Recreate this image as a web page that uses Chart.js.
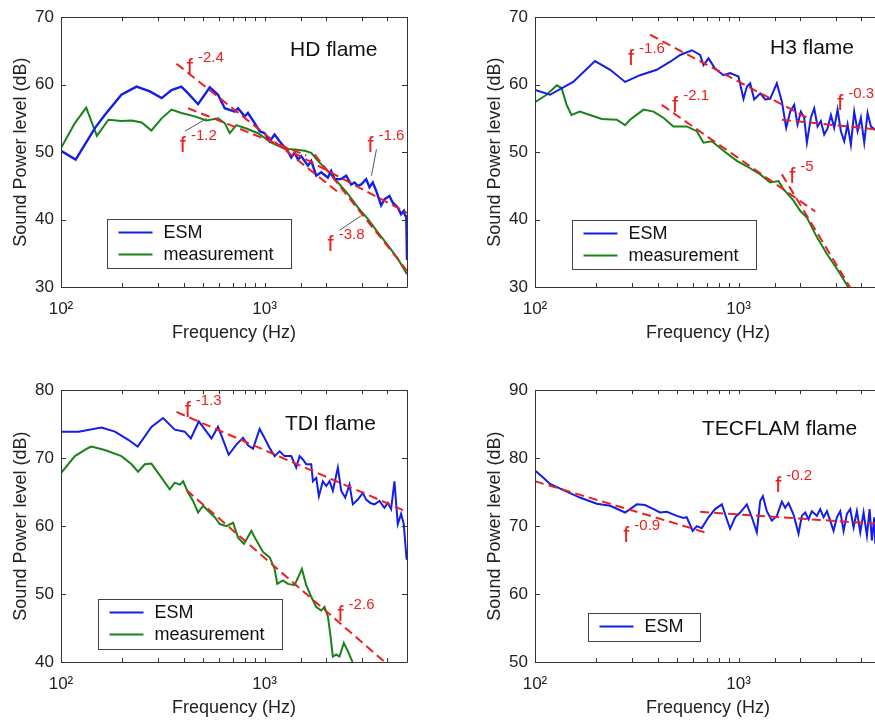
<!DOCTYPE html>
<html>
<head>
<meta charset="utf-8">
<script src="https://cdn.jsdelivr.net/npm/chart.js@4.4.1/dist/chart.umd.min.js"></script>
<style>
  html, body { margin: 0; padding: 0; width: 875px; height: 722px; overflow: hidden; background: #fff; }
  canvas { position: absolute; }
</style>
</head>
<body>
<canvas id="hd" width="440" height="361" style="left:0;top:0"></canvas>
<canvas id="h3" width="440" height="361" style="left:474px;top:0"></canvas>
<canvas id="tdi" width="440" height="363" style="left:0;top:373px"></canvas>
<canvas id="tec" width="440" height="363" style="left:474px;top:373px"></canvas>
<script>
// HD flame
const hdEsmFreq = [100,118,147,164,198,235,273,312,349,390,421,471,538,590,637,713,740,798,828,893,945,1000,1058,1119,1184,1301,1351,1403,1457,1512,1631,1693,1792,1896,2044,2122,2203,2376,2514,2660,2762,2868,2978,3151,3271,3396,3527,3732,3874,4100,4257,4504,4677,4820,4893,4960,5000];
const hdEsmDb = [50.2,48.9,53.6,55.5,58.5,59.7,59.0,58.0,59.2,59.7,58.7,57.1,59.6,58.5,56.5,56.0,56.5,55.3,55.8,54.3,53.1,52.8,51.6,52.6,51.6,50.1,49.2,49.9,48.9,49.4,48.0,48.7,46.5,47.0,46.2,47.2,46.0,46.0,46.5,45.2,45.5,45.0,45.2,46.0,44.8,45.5,44.3,42.1,43.0,43.5,42.5,41.8,40.8,41.3,40.6,40.5,34.0];
const hdMeasFreq = [100,117,133,150,171,198,222,249,278,312,349,390,454,518,590,637,674,726,813,928,1078,1253,1403,1571,1693,1826,2044,2288,2562,2868,3210,3594,4023,4504,5000];
const hdMeasDb = [50.6,54.3,56.6,52.4,54.8,54.6,54.7,54.4,53.2,55.0,56.3,55.8,55.3,54.7,55.0,54.3,52.8,54.0,53.5,52.8,51.4,50.5,50.4,50.2,49.9,48.7,47.2,45.5,43.8,41.8,40.1,38.1,36.2,34.2,31.9];
const hdFitFreq = [[369,2330],[421,1600],[1200,5000],[1758,5000]];
const hdFitDb = [[63.1,43.9],[56.5,49.5],[50.9,41.0],[49.65,32.4]];
const hdNotes = [[415,61.6,'-2.4'],[383,50.0,'-1.2'],[3198,50.0,'-1.6'],[2036,35.3,'-3.8']];
const hdLeaders = [[406,53.1,520,55.0],[3540,50.4,3345,46.5],[2332,38.4,2989,40.6]];

// H3 flame
const h3EsmFreq = [100,118.5,154,197,234,277,328,396,461,516,589,647,672,711,766,842,908,998,1056,1097,1139,1192,1276,1350,1428,1540,1630,1712,1791,1874,1946,2021,2098,2163,2263,2350,2440,2533,2631,2732,2838,2946,3060,3177,3299,3426,3557,3694,3837,3983,4137,4297,4461,4687,4850,5000];
const h3EsmDb = [59.2,58.5,60.4,63.5,62.2,60.4,61.4,62.2,63.4,64.4,65.1,64.4,62.9,63.9,62.4,61.4,61.7,61.2,57.9,59.7,60.2,57.8,58.7,57.8,57.9,60.2,57.5,53.6,56.0,57.0,54.1,56.0,55.1,51.4,55.1,56.5,53.8,54.6,52.6,53.5,55.5,53.6,56.3,53.1,51.6,54.1,51.1,56.0,53.1,55.1,51.4,55.8,53.8,53.3,53.0,52.5];
const h3MeasFreq = [100,114,128,135,143,151,166,186,213,252,277,293,341,382,427,478,556,623,672,738,842,980,1097,1276,1428,1570,1661,1860,2005,2163,2422,2713,3037,3401,3466,3600];
const h3MeasDb = [57.4,58.5,59.9,59.5,57.0,55.5,56.0,55.5,54.9,54.8,54.0,54.8,56.3,56.0,55.1,53.8,53.8,53.1,51.4,51.6,50.2,48.7,47.9,46.7,45.5,45.7,44.5,42.8,41.3,40.3,37.4,34.9,32.7,30.3,29.8,28.5];
const h3FitFreq = [[367,2163],[419,2376],[1630,5000],[1630,3600]];
const h3FitDb = [[67.4,55.1],[57.0,41.2],[54.8,53.3],[46.7,29.5]];
const h3Notes = [[286,62.9,'-1.6'],[471,56.0,'-2.1'],[3048,56.3,'-0.3'],[1771,45.4,'-5']];

// TDI flame
const tdiEsmFreq = [100,122,158,184,214,238,278,317,362,405,434,475,518,548,590,625,666,726,783,828,877,945,981,1058,1119,1184,1253,1351,1429,1484,1541,1600,1693,1726,1792,1846,1931,2006,2083,2162,2288,2376,2486,2610,2710,2868,3034,3151,3308,3462,3661,3874,4023,4178,4338,4504,4677,4820,4967,5000];
const tdiEsmDb = [73.9,73.9,74.5,73.9,72.7,71.7,74.6,75.9,74.2,73.9,72.9,75.4,73.9,72.9,74.6,72.7,70.5,72.0,73.0,71.9,71.4,74.3,73.4,71.5,70.3,71.0,70.3,70.3,68.6,70.3,69.8,69.1,69.1,66.6,67.1,64.4,66.6,65.9,66.6,65.2,68.6,65.2,64.2,66.1,63.2,63.9,64.9,63.9,63.4,63.2,63.7,62.7,63.4,62.5,66.6,60.3,61.8,60.3,55.4,55.0];
const tdiMeasFreq = [100,117,136,141,164,198,222,239,258,278,312,342,362,383,398,421,445,471,499,538,569,602,649,700,740,792,860,910,981,1058,1119,1153,1230,1301,1403,1524,1600,1693,1792,1896,1968,2044,2106,2162,2245,2331,2448,2562,2690,2760];
const tdiMeasDb = [67.8,70.3,71.5,71.7,71.2,70.3,69.1,68.0,69.1,69.2,67.1,65.4,66.4,66.1,66.6,64.9,63.7,62.0,63.0,62.0,61.3,60.3,60.0,60.5,58.3,57.4,59.3,57.9,56.2,55.4,53.7,51.5,52.0,51.5,51.3,53.7,51.3,49.6,48.1,47.6,48.1,46.7,43.8,40.8,41.1,40.8,42.8,41.6,40.1,38.5];
const tdiFitFreq = [[369,5000],[413,4100]];
const tdiFitDb = [[76.8,62.1],[65.3,39.4]];
const tdiNotes = [[405,76.1,'-1.3'],[2279,46.1,'-2.6']];

// TECFLAM flame
const tecEsmFreq = [100,110,118.5,138,166,201,234,277,293,316,347,382,411,444,497,536,556,595,623,659,711,766,827,868,908,961,1017,1097,1161,1228,1276,1315,1375,1455,1540,1630,1692,1757,1860,1968,2043,2122,2204,2288,2422,2515,2612,2713,2815,2924,3037,3154,3275,3401,3531,3667,3808,3955,4106,4264,4395,4511,4633,4687,4850,5000];
const tecEsmDb = [78.2,77.1,76.2,75.3,74.2,73.3,73.0,72.0,72.5,73.2,73.1,72.5,72.0,72.1,71.5,71.2,71.3,69.3,70.0,69.7,71.3,72.5,73.2,71.3,69.6,71.3,72.0,73.2,71.3,69.1,73.7,74.4,72.2,70.8,71.5,73.6,72.7,73.4,71.7,68.9,71.5,72.0,71.0,72.2,71.5,72.5,71.3,72.2,70.8,69.3,71.3,72.2,69.3,71.8,72.5,69.8,72.2,69.1,72.0,68.6,72.5,67.9,71.3,67.4,70.5,69.5];
const tecFitFreq = [[100,698],[647,5000]];
const tecFitDb = [[76.6,69.0],[72.1,70.3]];
const tecNotes = [[271,67.7,'-0.9'],[1511,75.0,'-0.2']];

const BLUE = 'rgb(20,30,230)';
const GREEN = 'rgb(25,130,25)';
const RED = 'rgb(235,32,32)';
const FONT = '"Liberation Sans", Arial, sans-serif';
Chart.defaults.font.family = FONT;

function pts(fr, db) {
  return fr.map((f, i) => ({ x: f, y: db[i] }));
}

// axes box, inward ticks, labels, legend
const decor = {
  id: 'decor',
  afterDatasetsDraw(chart, args, o) {
    const { ctx, chartArea: a, scales: { x, y } } = chart;
    ctx.save();
    ctx.strokeStyle = '#555';
    ctx.lineWidth = 1;
    o.leaders.forEach(l => {
      ctx.beginPath();
      ctx.moveTo(x.getPixelForValue(l[0]), y.getPixelForValue(l[1]));
      ctx.lineTo(x.getPixelForValue(l[2]), y.getPixelForValue(l[3]));
      ctx.stroke();
    });
    ctx.fillStyle = RED;
    ctx.textBaseline = 'alphabetic';
    ctx.textAlign = 'left';
    o.notes.forEach(n => {
      const px = x.getPixelForValue(n[0]), py = y.getPixelForValue(n[1]);
      ctx.font = '22px ' + FONT;
      ctx.fillText('f', px, py);
      const w = ctx.measureText('f').width;
      ctx.font = '15px ' + FONT;
      ctx.fillText(n[2], px + w + 5, py - 12);
    });
    ctx.fillStyle = '#111';
    ctx.font = '21px ' + FONT;
    ctx.fillText(o.title, a.left + o.titlePos[0], a.top + o.titlePos[1]);

    // frame and ticks
    ctx.strokeStyle = '#333';
    ctx.beginPath();
    ctx.rect(Math.round(a.left) + 0.5, Math.round(a.top) + 0.5, Math.round(a.width), Math.round(a.height));
    x.ticks.forEach(t => {
      const p = Math.round(x.getPixelForValue(t.value)) + 0.5;
      ctx.moveTo(p, a.bottom); ctx.lineTo(p, a.bottom - 4);
      ctx.moveTo(p, a.top); ctx.lineTo(p, a.top + 4);
    });
    y.ticks.forEach(t => {
      const p = Math.round(y.getPixelForValue(t.value)) + 0.5;
      ctx.moveTo(a.left, p); ctx.lineTo(a.left + 5, p);
      ctx.moveTo(a.right, p); ctx.lineTo(a.right - 5, p);
    });
    ctx.stroke();

    // legend
    const L = o.legend;
    const bx = Math.round(a.left + L.x) + 0.5, by = Math.round(a.top + L.y) + 0.5;
    ctx.fillStyle = '#fff';
    ctx.fillRect(bx, by, L.w, L.h);
    ctx.strokeStyle = '#444';
    ctx.strokeRect(bx, by, L.w, L.h);
    ctx.font = '18px ' + FONT;
    ctx.textBaseline = 'middle';
    L.items.forEach((it, i) => {
      const ry = by + 13 + i * 22;
      ctx.strokeStyle = it[1];
      ctx.lineWidth = 2;
      ctx.beginPath();
      ctx.moveTo(bx + 11, ry); ctx.lineTo(bx + 45, ry);
      ctx.stroke();
      ctx.fillStyle = '#111';
      ctx.fillText(it[0], bx + 56, ry + 1);
    });
    ctx.restore();
  }
};

function makeChart(id, cfg) {
  const datasets = [];
  cfg.fitFreq.forEach((fr, i) => {
    datasets.push({ data: pts(fr, cfg.fitDb[i]), borderColor: RED, borderWidth: 2, borderDash: [9, 5], pointRadius: 0, order: 0 });
  });
  cfg.series.forEach(s => {
    datasets.push({ data: pts(s[0], s[1]), borderColor: s[2], borderWidth: s[3], pointRadius: 0, order: 1 });
  });
  new Chart(document.getElementById(id), {
    type: 'line',
    data: { datasets },
    options: {
      responsive: false,
      animation: false,
      layout: { padding: { left: 0, top: 15, right: 33, bottom: 0 } },
      plugins: {
        legend: { display: false },
        tooltip: { enabled: false },
        decor: { notes: cfg.notes, leaders: cfg.leaders || [], title: cfg.title, titlePos: cfg.titlePos, legend: cfg.legend }
      },
      scales: {
        x: {
          type: 'logarithmic', min: 100, max: 5000,
          grid: { display: false, drawTicks: false }, border: { display: false },
          ticks: { autoSkip: false, maxRotation: 0, padding: 12, color: '#222', font: { size: 17 },
            callback: v => v === 100 ? '10²' : (v === 1000 ? '10³' : '') },
          title: { display: true, text: 'Frequency (Hz)', color: '#222', font: { size: 18 }, padding: { top: 0, bottom: 17 } },
          afterFit: s => { s.height = 74; }
        },
        y: {
          min: cfg.yMin, max: cfg.yMax,
          grid: { display: false, drawTicks: false }, border: { display: false },
          ticks: { stepSize: 10, padding: 7, color: '#222', font: { size: 17 } },
          title: { display: true, text: 'Sound Power level (dB)', color: '#222', font: { size: 18 }, padding: { top: 10, bottom: 0 } },
          afterFit: s => { s.width = 61; }
        }
      }
    },
    plugins: [decor]
  });
}

makeChart('hd', {
  yMin: 30, yMax: 70, title: 'HD flame', titlePos: [229, 39],
  series: [[hdEsmFreq, hdEsmDb, BLUE, 2.4], [hdMeasFreq, hdMeasDb, GREEN, 2]],
  fitFreq: hdFitFreq, fitDb: hdFitDb, notes: hdNotes, leaders: hdLeaders,
  legend: { x: 46, y: 202, w: 184, h: 49, items: [['ESM', BLUE], ['measurement', GREEN]] }
});
makeChart('h3', {
  yMin: 30, yMax: 70, title: 'H3 flame', titlePos: [235, 37],
  series: [[h3EsmFreq, h3EsmDb, BLUE, 2], [h3MeasFreq, h3MeasDb, GREEN, 2]],
  fitFreq: h3FitFreq, fitDb: h3FitDb, notes: h3Notes,
  legend: { x: 37, y: 203, w: 184, h: 49, items: [['ESM', BLUE], ['measurement', GREEN]] }
});
makeChart('tdi', {
  yMin: 40, yMax: 80, title: 'TDI flame', titlePos: [224, 40],
  series: [[tdiEsmFreq, tdiEsmDb, BLUE, 2], [tdiMeasFreq, tdiMeasDb, GREEN, 2]],
  fitFreq: tdiFitFreq, fitDb: tdiFitDb, notes: tdiNotes,
  legend: { x: 37, y: 209, w: 184, h: 50, items: [['ESM', BLUE], ['measurement', GREEN]] }
});
makeChart('tec', {
  yMin: 50, yMax: 90, title: 'TECFLAM flame', titlePos: [167, 45],
  series: [[tecEsmFreq, tecEsmDb, BLUE, 2]],
  fitFreq: tecFitFreq, fitDb: tecFitDb, notes: tecNotes,
  legend: { x: 53, y: 223, w: 112, h: 28, items: [['ESM', BLUE]] }
});
</script>
</body>
</html>
